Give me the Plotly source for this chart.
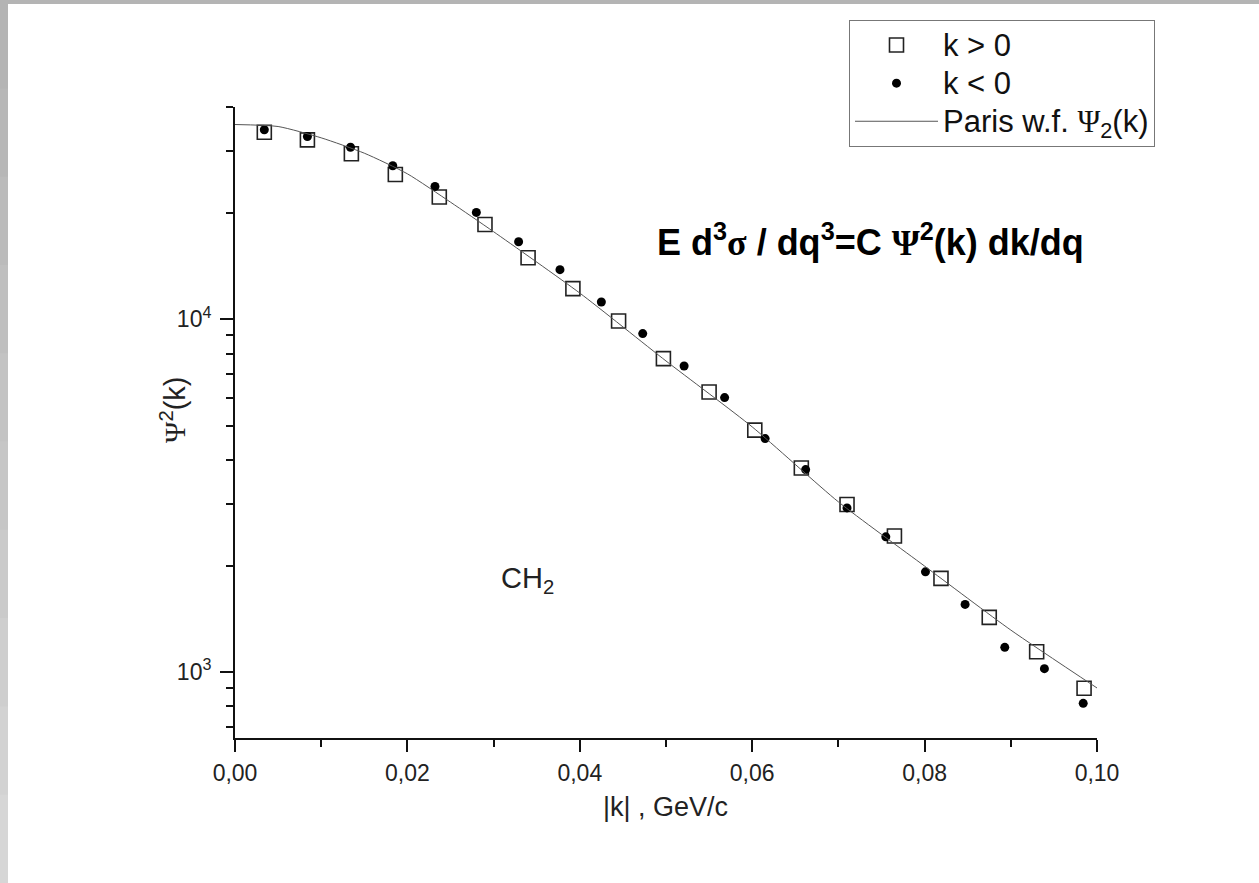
import plotly.graph_objects as go

# ---- data ----
k_pos = [0.0034, 0.0084, 0.0135, 0.0186, 0.0237, 0.0290, 0.0340, 0.0392, 0.0445,
         0.0497, 0.0550, 0.0603, 0.0657, 0.0710, 0.0765, 0.0819, 0.0875, 0.0930, 0.0985]
psi_pos = [33940, 32280, 29470, 25750, 22220, 18580, 14950, 12220, 9890,
           7740, 6220, 4850, 3790, 2985, 2430, 1843, 1429, 1142, 899]

k_neg = [0.0034, 0.0084, 0.0134, 0.0183, 0.0232, 0.0280, 0.0329, 0.0377, 0.0425,
         0.0473, 0.0521, 0.0568, 0.0615, 0.0662, 0.0710, 0.0755, 0.0801, 0.0847,
         0.0893, 0.0939, 0.0984]
psi_neg = [34470, 32990, 30760, 27250, 23820, 20100, 16600, 13830, 11200,
           9110, 7375, 6000, 4590, 3750, 2920, 2417, 1923, 1555,
           1175, 1022, 815]

k_paris = [0.0, 0.005, 0.010, 0.015, 0.020, 0.025, 0.030, 0.040, 0.050,
           0.060, 0.070, 0.080, 0.090, 0.100]
psi_paris = [35680, 35220, 32710, 29590, 25860, 21490, 17720, 11870, 7620,
             4955, 3037, 1997, 1315, 901]

x_tickvals = [0.0, 0.02, 0.04, 0.06, 0.08, 0.10]
x_ticktext = ["0,00", "0,02", "0,04", "0,06", "0,08", "0,10"]
x_minor = [0.01, 0.03, 0.05, 0.07, 0.09]
y_tickvals = [1000, 10000]
y_ticktext = ["10<sup>3</sup>", "10<sup>4</sup>"]
y_minor = [700, 800, 900, 2000, 3000, 4000, 5000, 6000, 7000, 8000, 9000,
           20000, 30000, 40000]

PSI = "<span style=\"font-family:'Liberation Serif'\">Ψ</span>"
SIGMA = "<span style=\"font-family:'Liberation Serif'\">σ</span>"
FONT = "Liberation Sans, Arial, sans-serif"


def big(s):
    return f"<span style=\"font-size:31px\">{s}</span>"


fig = go.Figure()
fig.add_trace(go.Scatter(
    x=k_pos, y=psi_pos, mode="markers", name=big("k > 0"),
    marker=dict(symbol="square-open", size=14, color="#222",
                line=dict(width=1.6, color="#222")),
))
fig.add_trace(go.Scatter(
    x=k_neg, y=psi_neg, mode="markers", name=big("k < 0"),
    marker=dict(symbol="circle", size=9, color="#000"),
))
fig.add_trace(go.Scatter(
    x=k_paris, y=psi_paris, mode="lines",
    name=big(f"Paris w.f. {PSI}<sub>2</sub>(k)"),
    line=dict(color="#555", width=1, shape="spline", smoothing=0.6),
))

L, R, T, B = 235, 162, 107, 145
W, H = 1259, 883
pw, ph = W - L - R, H - T - B


def px(x):
    return (x - L) / pw


def py(y):
    return (H - B - y) / ph


shapes = []
n_bands = 10
for i in range(n_bands):
    g = int(0xb4 + (0xd6 - 0xb4) * i / (n_bands - 1))
    shapes.append(dict(type="rect", xref="paper", yref="paper", layer="above",
                       x0=px(0), x1=px(8),
                       y0=py(H * (i + 1) / n_bands + 1), y1=py(H * i / n_bands),
                       fillcolor=f"rgb({g},{g},{g})", line=dict(width=0)))
shapes.append(dict(type="rect", xref="paper", yref="paper", layer="above",
                   x0=px(0), x1=px(W), y0=py(4), y1=py(0),
                   fillcolor="#b4b4b4", line=dict(width=0)))

fig.update_layout(
    width=W, height=H,
    margin=dict(l=L, r=R, t=T, b=B),
    paper_bgcolor="white", plot_bgcolor="white",
    font=dict(family=FONT, size=20, color="#222"),
    showlegend=True,
    legend=dict(
        x=px(849), y=py(20), xanchor="left", yanchor="top",
        bgcolor="white", bordercolor="#777", borderwidth=1,
        font=dict(size=27, color="#111"),
        itemwidth=83, tracegroupgap=0,
    ),
    xaxis=dict(
        range=[0, 0.10], tickvals=x_tickvals, ticktext=x_ticktext,
        ticks="outside", ticklen=12, tickwidth=2, tickcolor="#111",
        showline=True, linewidth=2, linecolor="#111", showgrid=False, zeroline=False,
        tickfont=dict(size=23, color="#222"), ticklabelstandoff=1,
        minor=dict(tickvals=x_minor, ticks="outside", ticklen=7, tickwidth=2,
                   tickcolor="#111", showgrid=False),
    ),
    yaxis=dict(
        type="log", range=[2.8129, 4.6021], tickvals=y_tickvals, ticktext=y_ticktext,
        ticks="outside", ticklen=13, tickwidth=2, tickcolor="#111",
        showline=True, linewidth=2, linecolor="#111", showgrid=False, zeroline=False,
        tickfont=dict(size=23, color="#222"), ticklabelstandoff=4,
        minor=dict(tickvals=y_minor, ticks="outside", ticklen=7, tickwidth=2,
                   tickcolor="#111", showgrid=False),
    ),
    annotations=[
        dict(text="|k| , GeV/c", x=px(665), y=py(807), xref="paper", yref="paper",
             xanchor="center", yanchor="middle",
             showarrow=False, font=dict(size=27, color="#222")),
        dict(text=f"{PSI}<sup>2</sup>(k)", x=px(173), y=py(410), xref="paper", yref="paper",
             xanchor="center", yanchor="middle",
             textangle=-90, showarrow=False, font=dict(size=29, color="#222")),
        dict(text=f"<b>E d<sup>3</sup>{SIGMA} / dq<sup>3</sup>=C {PSI}<sup>2</sup>(k) dk/dq</b>",
             x=px(870), y=py(240), xref="paper", yref="paper",
             xanchor="center", yanchor="middle",
             showarrow=False, font=dict(size=36, color="#000")),
        dict(text="CH<sub>2</sub>", x=px(527), y=py(580), xref="paper", yref="paper",
             xanchor="center", yanchor="middle",
             showarrow=False, font=dict(size=29, color="#222")),
    ],
    shapes=shapes,
)

fig.write_html("out.html", config={"displayModeBar": False},
               post_script="document.body.style.margin='0px';")
